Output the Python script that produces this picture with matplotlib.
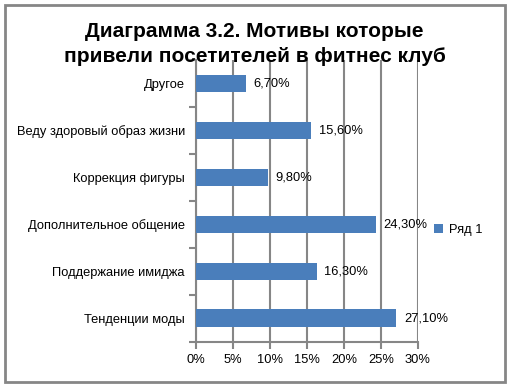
import numpy as np
import matplotlib.pyplot as plt
from matplotlib.patches import Rectangle

# данные (снизу вверх)
categories = ['Тенденции моды', 'Поддержание имиджа', 'Дополнительное общение',
              'Коррекция фигуры', 'Веду здоровый образ жизни', 'Другое']
values = [27.1, 16.3, 24.3, 9.8, 15.6, 6.7]
ticks = [0, 5, 10, 15, 20, 25, 30]
tick_labels = ['0%', '5%', '10%', '15%', '20%', '25%', '30%']

plt.rcParams['font.family'] = ['Liberation Sans', 'DejaVu Sans']
grey = '#868686'
blue = '#4A7EBB'

fig = plt.figure(figsize=(5.09, 3.85), dpi=100)
ax = fig.add_axes([0.385, 0.112, 0.436, 0.732])

y = np.arange(len(categories))
ax.barh(y, values, height=0.38, color=blue, label='Ряд 1', zorder=3)
for yi, v in zip(y, values):
    ax.text(v + 1.0, yi, ('%.2f%%' % v).replace('.', ','), va='center', ha='left',
            fontsize=9.3, zorder=4)

ax.set_xlim(0, 30)
ax.set_ylim(-0.5, len(categories) - 0.5)
ax.set_xticks(ticks)
ax.set_xticklabels(tick_labels, fontsize=9.3)
ax.set_yticks(y)
ax.set_yticklabels(categories, fontsize=9.3)
ax.tick_params(axis='y', length=0, pad=8)
ax.set_yticks(np.arange(-0.5, len(categories)), minor=True)
ax.tick_params(axis='y', which='minor', length=5, width=1.5, color=grey, direction='out')
ax.tick_params(axis='x', length=5, width=1.5, color=grey, direction='out', pad=4)
ax.xaxis.grid(True, color=grey, lw=1.5, zorder=0)

for s in ['top', 'right']:
    ax.spines[s].set_visible(False)
for s in ['left', 'bottom']:
    ax.spines[s].set_color(grey)
    ax.spines[s].set_linewidth(1.5)

ax.legend(loc='center left', bbox_to_anchor=(1.02, 0.397), frameon=False,
          fontsize=9.3, handlelength=0.7, handleheight=0.7, handletextpad=0.5)

fig.text(0.5, 0.885, 'Диаграмма 3.2. Мотивы которые\nпривели посетителей в фитнес клуб',
         ha='center', va='center', fontsize=15, fontweight='bold', linespacing=1.4)

fig.patches.append(Rectangle((0.01, 0.008), 0.982, 0.978, transform=fig.transFigure,
                             fill=False, edgecolor=grey, lw=2))

fig.savefig('out.png', dpi=100)
